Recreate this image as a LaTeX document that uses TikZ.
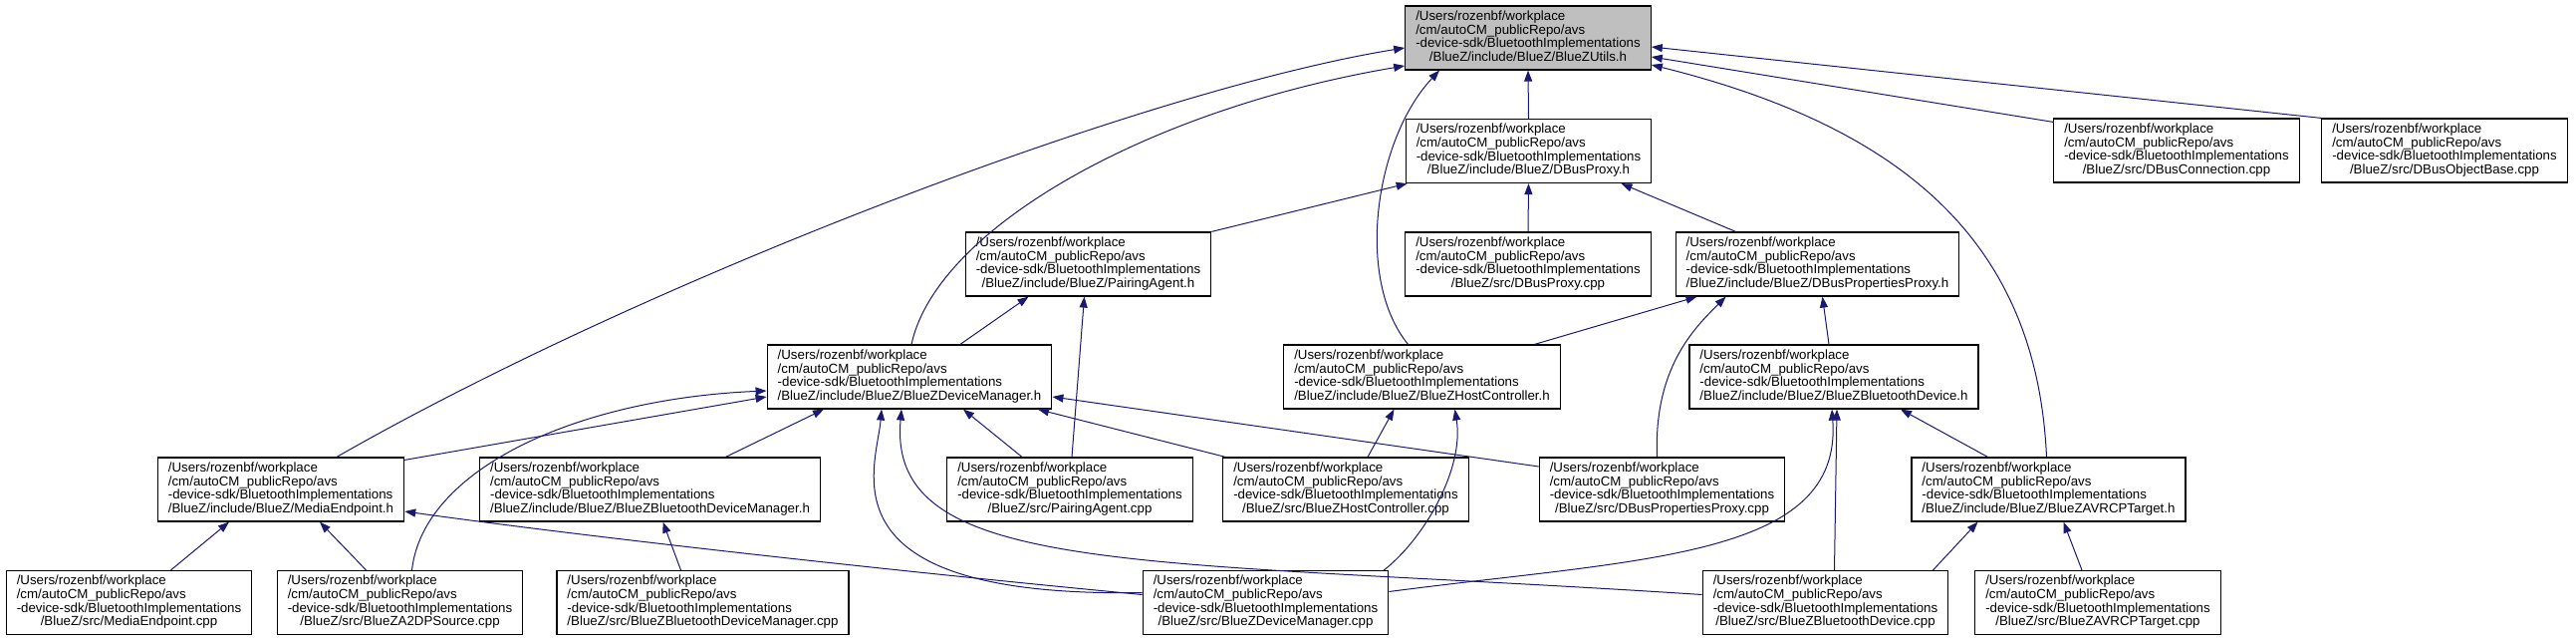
\documentclass[tikz,border=0pt]{standalone}
\usepackage{fontspec}
\setmainfont{Liberation Sans}
\usetikzlibrary{arrows.meta}
\definecolor{edgeblue}{HTML}{191970}
\definecolor{fillgray}{HTML}{BFBFBF}
\newcommand{\dox}[1]{\begin{tabular}{@{}l@{}}/Users/rozenbf/workplace\\/cm/autoCM\_publicRepo/avs\\-device-sdk/BluetoothImplementations\\\multicolumn{1}{@{}c@{}}{#1}\end{tabular}}
\begin{document}
\begin{tikzpicture}[x=1pt,y=-1pt,
  box/.style={draw=black, line width=1.2pt, fill=white, minimum height=64pt, inner xsep=10.5pt, inner ysep=0pt, font=\fontsize{13.3}{13.3}\selectfont},
  e/.style={draw=edgeblue, line width=1pt, -{Triangle[length=11pt,width=8pt]}}]
\fill[white] (0,0) rectangle (2586,643);
\path[use as bounding box] (0,0) rectangle (2586,643);

\node[box, fill=fillgray] (utils) at (1534,38) {\dox{/BlueZ/include/BlueZ/BlueZUtils.h}};
\node[box] (dbusproxyh) at (1534.5,151.5) {\dox{/BlueZ/include/BlueZ/DBusProxy.h}};
\node[box] (dbusconn) at (2185,151) {\dox{/BlueZ/src/DBusConnection.cpp}};
\node[box] (dbusobj) at (2454,151) {\dox{/BlueZ/src/DBusObjectBase.cpp}};
\node[box] (pairingh) at (1092.5,265) {\dox{/BlueZ/include/BlueZ/PairingAgent.h}};
\node[box] (dbusproxycpp) at (1534,265) {\dox{/BlueZ/src/DBusProxy.cpp}};
\node[box] (dbuspropph) at (1824.5,265) {\dox{/BlueZ/include/BlueZ/DBusPropertiesProxy.h}};
\node[box] (devmgrh) at (913,378) {\dox{/BlueZ/include/BlueZ/BlueZDeviceManager.h}};
\node[box] (hostctrlh) at (1427.5,378) {\dox{/BlueZ/include/BlueZ/BlueZHostController.h}};
\node[box] (btdevh) at (1841,378) {\dox{/BlueZ/include/BlueZ/BlueZBluetoothDevice.h}};
\node[box] (mediaeph) at (282,491) {\dox{/BlueZ/include/BlueZ/MediaEndpoint.h}};
\node[box] (btdevmgrh) at (652.5,491) {\dox{/BlueZ/include/BlueZ/BlueZBluetoothDeviceManager.h}};
\node[box] (pairingcpp) at (1074,491) {\dox{/BlueZ/src/PairingAgent.cpp}};
\node[box] (hostctrlcpp) at (1351,491) {\dox{/BlueZ/src/BlueZHostController.cpp}};
\node[box] (dbuspropcpp) at (1668.5,491) {\dox{/BlueZ/src/DBusPropertiesProxy.cpp}};
\node[box] (avrcph) at (2056.5,491) {\dox{/BlueZ/include/BlueZ/BlueZAVRCPTarget.h}};
\node[box] (mediaepcpp) at (129.5,604.5) {\dox{/BlueZ/src/MediaEndpoint.cpp}};
\node[box] (a2dpcpp) at (401.5,604.5) {\dox{/BlueZ/src/BlueZA2DPSource.cpp}};
\node[box] (btdevmgrcpp) at (705.5,604.5) {\dox{/BlueZ/src/BlueZBluetoothDeviceManager.cpp}};
\node[box] (devmgrcpp) at (1270.5,604.5) {\dox{/BlueZ/src/BlueZDeviceManager.cpp}};
\node[box] (btdevcpp) at (1832.5,604.5) {\dox{/BlueZ/src/BlueZBluetoothDevice.cpp}};
\node[box] (avrcpcpp) at (2106,604.5) {\dox{/BlueZ/src/BlueZAVRCPTarget.cpp}};

% to BlueZUtils.h
\draw[e] ([xshift=56pt]mediaeph.north) .. controls (650,280) and (1150,90) .. ([yshift=-10pt]utils.west);
\draw[e] ([xshift=2pt]devmgrh.north) .. controls (940,230) and (1150,110) .. ([yshift=-28pt]utils.west);
\draw[e] ([xshift=-14pt]hostctrlh.north) .. controls (1360,280) and (1380,140) .. ([xshift=-89pt]utils.south);
\draw[e] (dbusproxyh.north) -- (utils.south);
\draw[e] ([yshift=-4pt]dbusconn.north west) -- ([yshift=-19pt]utils.east);
\draw[e] (dbusobj.north west) -- ([yshift=-9pt]utils.east);
\draw[e] ([xshift=-2pt]avrcph.north) .. controls (2045,250) and (1920,130) .. ([yshift=-27pt]utils.east);

% to DBusProxy.h
\draw[e] (pairingh.north east) -- ([xshift=2pt]dbusproxyh.south west);
\draw[e] (dbusproxycpp.north) -- (dbusproxyh.south);
\draw[e] ([xshift=-82pt]dbuspropph.north) -- ([xshift=93pt]dbusproxyh.south);

% to PairingAgent.h
\draw[e] ([xshift=51pt]devmgrh.north) -- ([xshift=-60pt]pairingh.south);
\draw[e] ([xshift=2pt]pairingcpp.north) -- ([xshift=-4pt]pairingh.south);

% to DBusPropertiesProxy.h
\draw[e] ([xshift=113pt]hostctrlh.north) -- ([xshift=-121pt]dbuspropph.south);
\draw[e] ([xshift=-5pt]btdevh.north) -- ([xshift=5pt]dbuspropph.south);
\draw[e] ([xshift=-5pt]dbuspropcpp.north) .. controls (1660,370) and (1700,330) .. ([xshift=-92pt]dbuspropph.south);

% to BlueZDeviceManager.h
\draw[e] ([yshift=-3pt]mediaeph.north east) -- ([yshift=-20pt]devmgrh.west);
\draw[e] ([xshift=12pt]a2dpcpp.north) .. controls (425,470) and (580,400) .. ([yshift=-14pt]devmgrh.west);
\draw[e] ([xshift=76pt]btdevmgrh.north) -- ([xshift=-86pt]devmgrh.south);
\draw[e] ([yshift=10pt]devmgrcpp.west) .. controls (820,600) and (880,470) .. ([xshift=-28pt]devmgrh.south);
\draw[e] ([xshift=-48pt]pairingcpp.north) -- ([xshift=54pt]devmgrh.south);
\draw[e] ([xshift=3pt]hostctrlcpp.north west) -- ([xshift=129pt]devmgrh.south);
\draw[e] ([yshift=23pt]dbuspropcpp.west) -- ([yshift=-20pt]devmgrh.east);
\draw[e] ([yshift=8pt]btdevcpp.west) .. controls (1150,560) and (890,580) .. ([xshift=-8pt]devmgrh.south);

% to BlueZHostController.h
\draw[e] ([xshift=22pt]hostctrlcpp.north) -- ([xshift=-28pt]hostctrlh.south);
\draw[e] ([xshift=-5pt]devmgrcpp.north east) .. controls (1430,540) and (1470,470) .. ([xshift=33pt]hostctrlh.south);

% to BlueZBluetoothDevice.h
\draw[e] ([yshift=11pt]devmgrcpp.east) .. controls (1650,560) and (1850,560) .. ([xshift=-2pt]btdevh.south);
\draw[e] ([xshift=9pt]btdevcpp.north) -- ([xshift=3pt]btdevh.south);
\draw[e] ([xshift=-61pt]avrcph.north) -- ([xshift=67pt]btdevh.south);

% to MediaEndpoint.h
\draw[e] ([xshift=42pt]mediaepcpp.north) -- ([xshift=-52pt]mediaeph.south);
\draw[e] ([xshift=-34pt]a2dpcpp.north) -- ([xshift=39pt]mediaeph.south);
\draw[e] ([yshift=8pt]devmgrcpp.west) .. controls (900,573) and (600,540) .. ([yshift=-22pt]mediaeph.east);

% to BlueZBluetoothDeviceManager.h
\draw[e] ([xshift=-22pt]btdevmgrcpp.north) -- ([xshift=13pt]btdevmgrh.south);

% to BlueZAVRCPTarget.h
\draw[e] ([xshift=108pt]btdevcpp.north) -- ([xshift=-71pt]avrcph.south);
\draw[e] ([xshift=-16pt]avrcpcpp.north) -- ([xshift=15pt]avrcph.south);
\end{tikzpicture}
\end{document}
